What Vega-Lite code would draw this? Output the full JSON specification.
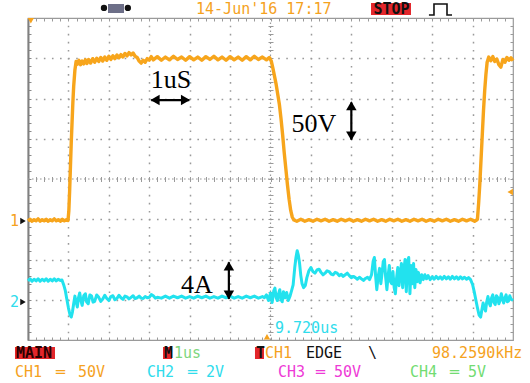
{
  "$schema": "https://vega.github.io/schema/vega-lite/v6.json",
  "width": 485,
  "height": 322,
  "autosize": {"type": "none"},
  "padding": {"left": 28, "top": 18, "right": 17, "bottom": 43},
  "background": "white",
  "config": {"view": {"stroke": "#9a9a9a", "strokeWidth": 1.2}},
  "datasets": {
    "ch1": [
      {"x":-6.00,"y":2.96},{"x":-5.95,"y":3.00},{"x":-5.90,"y":2.95},{"x":-5.85,"y":2.99},{"x":-5.80,"y":2.96},{"x":-5.75,"y":3.01},{"x":-5.70,"y":2.95},{"x":-5.65,"y":2.99},{"x":-5.60,"y":2.96},{"x":-5.55,"y":3.00},{"x":-5.50,"y":2.95},{"x":-5.45,"y":2.99},{"x":-5.40,"y":2.96},{"x":-5.35,"y":3.01},{"x":-5.30,"y":2.96},{"x":-5.25,"y":2.99},{"x":-5.20,"y":2.95},{"x":-5.15,"y":3.00},{"x":-5.10,"y":2.96},{"x":-5.05,"y":2.99},{"x":-5.01,"y":2.97},
      {"x":-4.99,"y":3.2},{"x":-4.97,"y":3.7},{"x":-4.95,"y":4.3},{"x":-4.93,"y":4.9},{"x":-4.91,"y":5.4},{"x":-4.89,"y":5.9},{"x":-4.87,"y":6.3},{"x":-4.84,"y":6.7},{"x":-4.81,"y":6.92},
      {"x":-4.78,"y":6.85},{"x":-4.74,"y":6.95},{"x":-4.70,"y":6.84},{"x":-4.66,"y":6.93},{"x":-4.62,"y":6.86},{"x":-4.58,"y":6.96},{"x":-4.54,"y":6.87},{"x":-4.50,"y":6.97},{"x":-4.45,"y":6.88},{"x":-4.40,"y":6.99},{"x":-4.35,"y":6.90},{"x":-4.30,"y":7.00},{"x":-4.25,"y":6.92},{"x":-4.20,"y":7.02},{"x":-4.15,"y":6.93},{"x":-4.10,"y":7.03},{"x":-4.05,"y":6.95},{"x":-4.00,"y":7.05},{"x":-3.95,"y":6.97},{"x":-3.90,"y":7.06},{"x":-3.85,"y":6.99},{"x":-3.80,"y":7.08},{"x":-3.75,"y":7.01},{"x":-3.70,"y":7.09},{"x":-3.65,"y":7.03},{"x":-3.60,"y":7.12},{"x":-3.55,"y":7.06},{"x":-3.50,"y":7.14},{"x":-3.45,"y":7.08},{"x":-3.40,"y":7.13},{"x":-3.35,"y":7.05},{"x":-3.30,"y":7.02},{"x":-3.25,"y":6.93},{"x":-3.20,"y":6.88},{"x":-3.15,"y":6.95},{"x":-3.10,"y":6.90},{"x":-3.05,"y":6.99},{"x":-3.00,"y":6.95},{"x":-2.95,"y":7.04},
      {"x":-2.90,"y":6.96},{"x":-2.80,"y":7.04},{"x":-2.70,"y":6.95},{"x":-2.60,"y":7.03},{"x":-2.50,"y":6.96},{"x":-2.40,"y":7.05},{"x":-2.30,"y":6.97},{"x":-2.20,"y":7.03},{"x":-2.10,"y":6.95},{"x":-2.00,"y":7.04},{"x":-1.90,"y":6.96},{"x":-1.80,"y":7.03},{"x":-1.70,"y":6.95},{"x":-1.60,"y":7.04},{"x":-1.50,"y":6.97},{"x":-1.40,"y":7.05},{"x":-1.30,"y":6.96},{"x":-1.20,"y":7.03},{"x":-1.10,"y":6.95},{"x":-1.00,"y":7.04},{"x":-0.90,"y":6.96},{"x":-0.80,"y":7.03},{"x":-0.70,"y":6.95},{"x":-0.60,"y":7.04},{"x":-0.50,"y":6.96},{"x":-0.40,"y":7.05},{"x":-0.30,"y":6.97},{"x":-0.20,"y":7.03},{"x":-0.10,"y":6.96},{"x":-0.03,"y":7.02},
      {"x":0.02,"y":6.93},{"x":0.06,"y":6.75},{"x":0.10,"y":6.55},{"x":0.14,"y":6.35},{"x":0.18,"y":6.10},{"x":0.22,"y":5.85},{"x":0.26,"y":5.50},{"x":0.30,"y":5.10},{"x":0.34,"y":4.65},{"x":0.38,"y":4.25},{"x":0.42,"y":3.85},{"x":0.46,"y":3.50},{"x":0.50,"y":3.22},{"x":0.54,"y":3.05},{"x":0.58,"y":2.98},
      {"x":0.65,"y":2.95},{"x":0.75,"y":3.00},{"x":0.85,"y":2.95},{"x":0.95,"y":2.99},{"x":1.05,"y":2.95},{"x":1.15,"y":3.00},{"x":1.25,"y":2.96},{"x":1.35,"y":3.00},{"x":1.45,"y":2.95},{"x":1.55,"y":2.99},{"x":1.65,"y":2.95},{"x":1.75,"y":3.00},{"x":1.85,"y":2.96},{"x":1.95,"y":3.00},{"x":2.05,"y":2.95},{"x":2.15,"y":2.99},{"x":2.25,"y":2.95},{"x":2.35,"y":3.00},{"x":2.45,"y":2.96},{"x":2.55,"y":3.00},{"x":2.65,"y":2.95},{"x":2.75,"y":2.99},{"x":2.85,"y":2.95},{"x":2.95,"y":3.00},{"x":3.05,"y":2.96},{"x":3.15,"y":3.00},{"x":3.25,"y":2.95},{"x":3.35,"y":2.99},{"x":3.45,"y":2.95},{"x":3.55,"y":3.00},{"x":3.65,"y":2.96},{"x":3.75,"y":3.00},{"x":3.85,"y":2.95},{"x":3.95,"y":2.99},{"x":4.05,"y":2.95},{"x":4.15,"y":3.00},{"x":4.25,"y":2.96},{"x":4.35,"y":3.00},{"x":4.45,"y":2.95},{"x":4.55,"y":2.99},{"x":4.65,"y":2.95},{"x":4.75,"y":3.00},{"x":4.85,"y":2.96},{"x":4.95,"y":3.00},{"x":5.05,"y":2.95},{"x":5.10,"y":2.98},
      {"x":5.12,"y":3.0},{"x":5.15,"y":3.4},{"x":5.18,"y":3.9},{"x":5.21,"y":4.5},{"x":5.24,"y":5.1},{"x":5.27,"y":5.7},{"x":5.30,"y":6.2},{"x":5.33,"y":6.6},{"x":5.36,"y":6.9},{"x":5.40,"y":7.03},
      {"x":5.45,"y":6.94},{"x":5.50,"y":7.04},{"x":5.55,"y":6.92},{"x":5.60,"y":6.98},{"x":5.65,"y":6.84},{"x":5.70,"y":6.78},{"x":5.75,"y":6.97},{"x":5.80,"y":6.90},{"x":5.85,"y":7.02},{"x":5.90,"y":6.95},{"x":5.95,"y":7.01},{"x":6.00,"y":6.94}
    ],
    "ch2": [
      {"x":-6.00,"y":1.47},{"x":-5.95,"y":1.52},{"x":-5.90,"y":1.46},{"x":-5.85,"y":1.51},{"x":-5.80,"y":1.47},{"x":-5.75,"y":1.52},{"x":-5.70,"y":1.46},{"x":-5.65,"y":1.51},{"x":-5.60,"y":1.47},{"x":-5.55,"y":1.52},{"x":-5.50,"y":1.46},{"x":-5.45,"y":1.51},{"x":-5.40,"y":1.47},{"x":-5.35,"y":1.52},{"x":-5.30,"y":1.47},{"x":-5.25,"y":1.51},{"x":-5.20,"y":1.48},{"x":-5.16,"y":1.49},
      {"x":-5.12,"y":1.38},{"x":-5.08,"y":1.24},{"x":-5.04,"y":1.02},{"x":-5.00,"y":0.80},{"x":-4.96,"y":0.62},{"x":-4.93,"y":0.57},{"x":-4.90,"y":0.70},{"x":-4.87,"y":0.90},{"x":-4.84,"y":1.09},{"x":-4.81,"y":0.95},{"x":-4.78,"y":0.82},{"x":-4.75,"y":1.05},{"x":-4.72,"y":1.17},{"x":-4.69,"y":0.98},{"x":-4.66,"y":0.86},{"x":-4.62,"y":1.10},{"x":-4.58,"y":1.15},{"x":-4.55,"y":0.95},{"x":-4.51,"y":0.90},{"x":-4.47,"y":1.12},{"x":-4.43,"y":1.10},{"x":-4.39,"y":0.94},{"x":-4.35,"y":0.96},{"x":-4.30,"y":1.12},{"x":-4.25,"y":1.06},{"x":-4.20,"y":0.96},{"x":-4.15,"y":1.02},{"x":-4.10,"y":1.11},{"x":-4.05,"y":1.03},{"x":-4.00,"y":0.98},{"x":-3.95,"y":1.08},{"x":-3.90,"y":1.10},{"x":-3.85,"y":1.00},{"x":-3.80,"y":1.03},{"x":-3.75,"y":1.11},{"x":-3.70,"y":1.05},{"x":-3.65,"y":1.01},{"x":-3.60,"y":1.09},{"x":-3.55,"y":1.07},{"x":-3.50,"y":1.02},{"x":-3.45,"y":1.06},{"x":-3.40,"y":1.10},{"x":-3.35,"y":1.03},{"x":-3.30,"y":1.05},{"x":-3.25,"y":1.09},{"x":-3.20,"y":1.04},{"x":-3.15,"y":1.03},{"x":-3.10,"y":1.08},{"x":-3.05,"y":1.05},{"x":-3.00,"y":1.06},{"x":-2.95,"y":1.13},{"x":-2.90,"y":1.10},{"x":-2.85,"y":1.04},{"x":-2.80,"y":1.06},
      {"x":-2.70,"y":1.04},{"x":-2.60,"y":1.09},{"x":-2.50,"y":1.04},{"x":-2.40,"y":1.09},{"x":-2.30,"y":1.05},{"x":-2.20,"y":1.09},{"x":-2.10,"y":1.04},{"x":-2.00,"y":1.08},{"x":-1.90,"y":1.04},{"x":-1.80,"y":1.09},{"x":-1.70,"y":1.05},{"x":-1.60,"y":1.09},{"x":-1.50,"y":1.04},{"x":-1.40,"y":1.08},{"x":-1.30,"y":1.04},{"x":-1.20,"y":1.09},{"x":-1.10,"y":1.05},{"x":-1.00,"y":1.09},{"x":-0.90,"y":1.04},{"x":-0.80,"y":1.08},{"x":-0.70,"y":1.04},{"x":-0.60,"y":1.09},{"x":-0.50,"y":1.05},{"x":-0.40,"y":1.09},{"x":-0.30,"y":1.04},{"x":-0.20,"y":1.08},
      {"x":-0.15,"y":1.05},{"x":-0.10,"y":1.12},{"x":-0.05,"y":0.98},{"x":0.00,"y":1.17},{"x":0.04,"y":0.93},{"x":0.08,"y":1.22},{"x":0.11,"y":1.29},{"x":0.14,"y":1.05},{"x":0.17,"y":0.98},{"x":0.20,"y":1.15},{"x":0.23,"y":1.25},{"x":0.26,"y":1.00},{"x":0.29,"y":0.95},{"x":0.32,"y":1.20},{"x":0.36,"y":1.05},{"x":0.40,"y":1.18},{"x":0.44,"y":0.98},{"x":0.48,"y":1.08},{"x":0.52,"y":1.22},{"x":0.56,"y":1.37},{"x":0.60,"y":1.80},{"x":0.63,"y":2.05},{"x":0.66,"y":2.22},{"x":0.69,"y":2.10},{"x":0.72,"y":1.90},{"x":0.75,"y":1.60},{"x":0.78,"y":1.40},{"x":0.82,"y":1.30},{"x":0.86,"y":1.35},{"x":0.90,"y":1.55},{"x":0.95,"y":1.72},{"x":1.00,"y":1.80},{"x":1.05,"y":1.70},{"x":1.10,"y":1.66},{"x":1.15,"y":1.74},{"x":1.20,"y":1.76},{"x":1.25,"y":1.68},{"x":1.30,"y":1.62},{"x":1.35,"y":1.66},{"x":1.40,"y":1.72},{"x":1.45,"y":1.70},{"x":1.50,"y":1.64},{"x":1.55,"y":1.62},{"x":1.60,"y":1.68},{"x":1.65,"y":1.66},{"x":1.70,"y":1.60},{"x":1.75,"y":1.63},{"x":1.80,"y":1.58},{"x":1.85,"y":1.62},{"x":1.90,"y":1.66},{"x":1.95,"y":1.60},{"x":2.00,"y":1.55},{"x":2.05,"y":1.58},{"x":2.10,"y":1.55},{"x":2.15,"y":1.51},{"x":2.20,"y":1.56},{"x":2.25,"y":1.52},{"x":2.30,"y":1.48},{"x":2.35,"y":1.53},{"x":2.40,"y":1.56},{"x":2.45,"y":1.50},{"x":2.50,"y":1.62},{"x":2.54,"y":1.96},{"x":2.57,"y":2.05},{"x":2.60,"y":1.60},{"x":2.63,"y":1.25},{"x":2.66,"y":1.55},{"x":2.70,"y":1.78},{"x":2.73,"y":1.40},{"x":2.76,"y":1.65},{"x":2.79,"y":1.95},{"x":2.82,"y":2.00},{"x":2.85,"y":1.55},{"x":2.88,"y":1.25},{"x":2.91,"y":1.60},{"x":2.94,"y":1.85},{"x":2.97,"y":1.45},{"x":3.00,"y":1.40},{"x":3.03,"y":1.70},{"x":3.06,"y":1.30},{"x":3.09,"y":1.15},{"x":3.12,"y":1.55},{"x":3.15,"y":1.80},{"x":3.18,"y":1.35},{"x":3.21,"y":1.65},{"x":3.24,"y":1.90},{"x":3.27,"y":1.30},{"x":3.30,"y":1.75},{"x":3.33,"y":2.00},{"x":3.36,"y":1.20},{"x":3.39,"y":1.95},{"x":3.42,"y":2.05},{"x":3.45,"y":1.15},{"x":3.48,"y":1.85},{"x":3.51,"y":1.40},{"x":3.54,"y":1.90},{"x":3.57,"y":1.30},{"x":3.60,"y":1.75},{"x":3.63,"y":1.45},{"x":3.66,"y":1.68},{"x":3.70,"y":1.42},{"x":3.74,"y":1.62},{"x":3.78,"y":1.50},{"x":3.82,"y":1.62},{"x":3.86,"y":1.52},{"x":3.90,"y":1.60},{"x":3.95,"y":1.50},{"x":4.00,"y":1.57},{"x":4.05,"y":1.51},{"x":4.10,"y":1.58},{"x":4.15,"y":1.52},{"x":4.20,"y":1.57},{"x":4.25,"y":1.51},{"x":4.30,"y":1.58},{"x":4.35,"y":1.52},{"x":4.40,"y":1.57},{"x":4.45,"y":1.51},{"x":4.50,"y":1.58},{"x":4.55,"y":1.52},{"x":4.60,"y":1.57},{"x":4.65,"y":1.51},{"x":4.70,"y":1.57},{"x":4.75,"y":1.52},{"x":4.80,"y":1.56},{"x":4.85,"y":1.51},{"x":4.90,"y":1.55},{"x":4.95,"y":1.50},{"x":5.00,"y":1.38},{"x":5.04,"y":1.20},{"x":5.08,"y":1.00},{"x":5.12,"y":0.80},{"x":5.16,"y":0.62},{"x":5.20,"y":0.57},{"x":5.23,"y":0.75},{"x":5.26,"y":0.92},{"x":5.29,"y":0.80},{"x":5.32,"y":0.72},{"x":5.35,"y":0.95},{"x":5.38,"y":1.08},{"x":5.41,"y":0.92},{"x":5.44,"y":0.85},{"x":5.47,"y":1.05},{"x":5.50,"y":1.12},{"x":5.53,"y":0.93},{"x":5.56,"y":0.88},{"x":5.59,"y":1.10},{"x":5.62,"y":1.06},{"x":5.65,"y":0.90},{"x":5.68,"y":0.98},{"x":5.71,"y":1.15},{"x":5.74,"y":1.02},{"x":5.77,"y":0.92},{"x":5.80,"y":1.05},{"x":5.83,"y":1.12},{"x":5.86,"y":0.95},{"x":5.89,"y":0.97},{"x":5.92,"y":1.10},{"x":5.95,"y":1.02},{"x":6.00,"y":0.98}
    ],
    "scopeText": [
      {"t":"14-Jun'16 17:17","x":-1.843,"y":8.224,"c":"ch1"},
      {"t":"1us","x":-2.388,"y":-0.323,"c":"green"},
      {"t":"CH1","x":-0.136,"y":-0.323,"c":"ch1"},
      {"t":"EDGE","x":0.878,"y":-0.323,"c":"ink"},
      {"t":"\\","x":2.412,"y":-0.323,"c":"ink"},
      {"t":"98.2590kHz","x":3.996,"y":-0.323,"c":"ch1"},
      {"t":"CH1","x":-6.322,"y":-0.795,"c":"ch1"},
      {"t":"═","x":-5.307,"y":-0.795,"c":"ch1"},
      {"t":"50V","x":-4.763,"y":-0.795,"c":"ch1"},
      {"t":"CH2","x":-3.056,"y":-0.795,"c":"ch2"},
      {"t":"═","x":-2.041,"y":-0.795,"c":"ch2"},
      {"t":"2V","x":-1.596,"y":-0.795,"c":"ch2"},
      {"t":"CH3","x":0.185,"y":-0.795,"c":"ch3"},
      {"t":"═","x":1.126,"y":-0.795,"c":"ch3"},
      {"t":"50V","x":1.571,"y":-0.795,"c":"ch3"},
      {"t":"CH4","x":3.451,"y":-0.795,"c":"ch4"},
      {"t":"═","x":4.441,"y":-0.795,"c":"ch4"},
      {"t":"5V","x":4.886,"y":-0.795,"c":"ch4"},
      {"t":"1","x":-6.445,"y":2.957,"c":"ch1"},
      {"t":"2","x":-6.445,"y":0.944,"c":"ch2"},
      {"t":"9.720us","x":0.111,"y":0.298,"c":"ch2"}
    ],
    "boldText": [
      {"t":"MAIN","x":-6.297,"y":-0.323,"c":"dark"},
      {"t":"M","x":-2.635,"y":-0.323,"c":"ink"},
      {"t":"T","x":-0.359,"y":-0.323,"c":"ink"},
      {"t":"STOP","x":2.548,"y":8.224,"c":"ink"}
    ],
    "boxes": [
      {"x":-6.322,"x2":-5.332,"y":-0.174,"y2":-0.472,"c":"red"},
      {"x":-2.66,"x2":-2.437,"y":-0.174,"y2":-0.472,"c":"red"},
      {"x":-0.384,"x2":-0.161,"y":-0.174,"y2":-0.472,"c":"red"},
      {"x":2.487,"x2":3.476,"y":8.075,"y2":8.373,"c":"red"},
      {"x":-4.021,"x2":-3.625,"y":8.124,"y2":8.348,"c":"gray"}
    ],
    "marks": [
      {"x":-6.124,"y":2.957,"s":"right","c":"ink"},
      {"x":-6.124,"y":0.944,"s":"right","c":"ink"},
      {"x":5.93,"y":3.677,"s":"left","c":"ch1"},
      {"x":-5.93,"y":7.93,"s":"down","c":"ch1"},
      {"x":-0.087,"y":0.08,"s":"up","c":"ch1"},
      {"x":-4.12,"y":8.25,"s":"dot","c":"ink"},
      {"x":-3.53,"y":8.25,"s":"dot","c":"ink"}
    ],
    "heads": [
      {"x":-2.856,"y":5.96,"s":"left"},
      {"x":-2.104,"y":5.96,"s":"right"},
      {"x":2.0,"y":5.82,"s":"up"},
      {"x":2.0,"y":5.07,"s":"down"},
      {"x":-1.03,"y":1.84,"s":"up"},
      {"x":-1.03,"y":1.12,"s":"down"}
    ],
    "arrows": [
      {"x":-2.95,"x2":-2.01,"y":5.96,"y2":5.96},
      {"x":2.0,"x2":2.0,"y":5.9,"y2":4.98},
      {"x":-1.03,"x2":-1.03,"y":1.93,"y2":1.02}
    ],
    "notes": [
      {"t":"1uS","x":-2.462,"y":6.46},
      {"t":"50V","x":1.076,"y":5.366},
      {"t":"4A","x":-1.819,"y":1.366}
    ],
    "icon": [
      {"i":1,"x":3.92,"y":8.075},{"i":2,"x":4.045,"y":8.075},{"i":3,"x":4.045,"y":8.348},{"i":4,"x":4.367,"y":8.348},{"i":5,"x":4.367,"y":8.075},{"i":6,"x":4.491,"y":8.075}
    ],
    "center": [
      {"x":0,"y":0,"x2":0,"y2":8},
      {"x":-6,"y":4,"x2":6,"y2":4}
    ]
  },
  "resolve": {"axis": {"x": "independent", "y": "independent"}},
  "layer": [
    {
      "data": {"name": "center"},
      "mark": {"type": "rule", "color": "#9a9a9a", "strokeWidth": 1.2, "strokeDash": [1.6, 2.4]},
      "encoding": {
        "x": {"field": "x", "type": "quantitative", "scale": {"domain": [-6, 6], "nice": false, "zero": false},
          "axis": {"orient": "bottom", "offset": -163.5, "values": [-5.8,-5.6,-5.4,-5.2,-5,-4.8,-4.6,-4.4,-4.2,-4,-3.8,-3.6,-3.4,-3.2,-3,-2.8,-2.6,-2.4,-2.2,-2,-1.8,-1.6,-1.4,-1.2,-1,-0.8,-0.6,-0.4,-0.2,0,0.2,0.4,0.6,0.8,1,1.2,1.4,1.6,1.8,2,2.2,2.4,2.6,2.8,3,3.2,3.4,3.6,3.8,4,4.2,4.4,4.6,4.8,5,5.2,5.4,5.6,5.8], "tickSize": 5, "tickColor": "#9a9a9a", "labels": false, "domain": false, "grid": false, "title": null}},
        "x2": {"field": "x2"},
        "y": {"field": "y", "type": "quantitative", "scale": {"domain": [0, 8], "nice": false, "zero": false},
          "axis": {"orient": "left", "offset": -245, "values": [0.2,0.4,0.6,0.8,1,1.2,1.4,1.6,1.8,2,2.2,2.4,2.6,2.8,3,3.2,3.4,3.6,3.8,4,4.2,4.4,4.6,4.8,5,5.2,5.4,5.6,5.8,6,6.2,6.4,6.6,6.8,7,7.2,7.4,7.6,7.8], "tickSize": 5, "tickColor": "#9a9a9a", "labels": false, "domain": false, "grid": false, "title": null}},
        "y2": {"field": "y2"}
      }
    },
    {
      "data": {"name": "ch1"},
      "mark": {"type": "line", "color": "#F7A51C", "strokeWidth": 3.4, "strokeJoin": "round"},
      "encoding": {
        "x": {"field": "x", "type": "quantitative", "scale": {"domain": [-6, 6], "nice": false, "zero": false},
          "axis": {"orient": "bottom", "values": [-5,-4,-3,-2,-1,1,2,3,4,5], "grid": true, "gridColor": "#9a9a9a", "gridWidth": 1.5, "gridDash": [1.6, 6.45], "gridDashOffset": 0.8, "ticks": false, "labels": false, "domain": false, "title": null}},
        "y": {"field": "y", "type": "quantitative", "scale": {"domain": [0, 8], "nice": false, "zero": false},
          "axis": {"orient": "left", "values": [1,2,3,5,6,7], "grid": true, "gridColor": "#9a9a9a", "gridWidth": 1.5, "gridDash": [1.6, 6.48], "gridDashOffset": 0.8, "ticks": false, "labels": false, "domain": false, "title": null}}
      }
    },
    {
      "data": {"name": "ch2"},
      "mark": {"type": "line", "color": "#22E2EE", "strokeWidth": 3, "strokeJoin": "round"},
      "encoding": {
        "x": {"field": "x", "type": "quantitative", "scale": {"domain": [-6, 6], "nice": false, "zero": false},
          "axis": {"orient": "bottom", "values": [-5.8,-5.6,-5.4,-5.2,-5,-4.8,-4.6,-4.4,-4.2,-4,-3.8,-3.6,-3.4,-3.2,-3,-2.8,-2.6,-2.4,-2.2,-2,-1.8,-1.6,-1.4,-1.2,-1,-0.8,-0.6,-0.4,-0.2,0,0.2,0.4,0.6,0.8,1,1.2,1.4,1.6,1.8,2,2.2,2.4,2.6,2.8,3,3.2,3.4,3.6,3.8,4,4.2,4.4,4.6,4.8,5,5.2,5.4,5.6,5.8], "tickSize": -3, "tickColor": "#9a9a9a", "labels": false, "domain": false, "grid": false, "title": null}},
        "y": {"field": "y", "type": "quantitative", "scale": {"domain": [0, 8], "nice": false, "zero": false},
          "axis": {"orient": "left", "values": [0.2,0.4,0.6,0.8,1,1.2,1.4,1.6,1.8,2,2.2,2.4,2.6,2.8,3,3.2,3.4,3.6,3.8,4,4.2,4.4,4.6,4.8,5,5.2,5.4,5.6,5.8,6,6.2,6.4,6.6,6.8,7,7.2,7.4,7.6,7.8], "tickSize": -3, "tickColor": "#8a8a8a", "labels": false, "domain": true, "domainColor": "#808080", "domainWidth": 2, "grid": false, "title": null}}
      }
    },
    {
      "data": {"name": "boxes"},
      "mark": {"type": "rect"},
      "encoding": {
        "x": {"field": "x", "type": "quantitative", "scale": {"domain": [-6, 6], "nice": false, "zero": false}, "axis": null},
        "x2": {"field": "x2"},
        "y": {"field": "y", "type": "quantitative", "scale": {"domain": [0, 8], "nice": false, "zero": false}, "axis": null},
        "y2": {"field": "y2"},
        "color": {"field": "c", "type": "nominal", "legend": null,
          "scale": {"domain": ["ch1","ch2","ch3","ch4","green","ink","dark","red","gray"], "range": ["#F5A21E","#2FDCEC","#EE3AD6","#72DC72","#7ED67E","#111111","#2a0000","#E3262B","#6d6f88"]}}
      }
    },
    {
      "data": {"name": "scopeText"},
      "mark": {"type": "text", "font": "DejaVu Sans Mono", "fontSize": 15, "align": "left", "baseline": "middle"},
      "encoding": {
        "x": {"field": "x", "type": "quantitative", "scale": {"domain": [-6, 6], "nice": false, "zero": false},
          "axis": {"orient": "top", "values": [-5.8,-5.6,-5.4,-5.2,-5,-4.8,-4.6,-4.4,-4.2,-4,-3.8,-3.6,-3.4,-3.2,-3,-2.8,-2.6,-2.4,-2.2,-2,-1.8,-1.6,-1.4,-1.2,-1,-0.8,-0.6,-0.4,-0.2,0,0.2,0.4,0.6,0.8,1,1.2,1.4,1.6,1.8,2,2.2,2.4,2.6,2.8,3,3.2,3.4,3.6,3.8,4,4.2,4.4,4.6,4.8,5,5.2,5.4,5.6,5.8], "tickSize": -3, "tickColor": "#9a9a9a", "labels": false, "domain": false, "grid": false, "title": null}},
        "y": {"field": "y", "type": "quantitative", "scale": {"domain": [0, 8], "nice": false, "zero": false},
          "axis": {"orient": "right", "values": [0.2,0.4,0.6,0.8,1,1.2,1.4,1.6,1.8,2,2.2,2.4,2.6,2.8,3,3.2,3.4,3.6,3.8,4,4.2,4.4,4.6,4.8,5,5.2,5.4,5.6,5.8,6,6.2,6.4,6.6,6.8,7,7.2,7.4,7.6,7.8], "tickSize": -3, "tickColor": "#9a9a9a", "labels": false, "domain": false, "grid": false, "title": null}},
        "text": {"field": "t"},
        "color": {"field": "c", "type": "nominal", "legend": null,
          "scale": {"domain": ["ch1","ch2","ch3","ch4","green","ink","dark","red","gray"], "range": ["#F5A21E","#2FDCEC","#EE3AD6","#72DC72","#7ED67E","#111111","#2a0000","#E3262B","#6d6f88"]}}
      }
    },
    {
      "data": {"name": "boldText"},
      "mark": {"type": "text", "font": "DejaVu Sans Mono", "fontSize": 15, "fontWeight": "bold", "align": "left", "baseline": "middle"},
      "encoding": {
        "x": {"field": "x", "type": "quantitative", "scale": {"domain": [-6, 6], "nice": false, "zero": false}, "axis": null},
        "y": {"field": "y", "type": "quantitative", "scale": {"domain": [0, 8], "nice": false, "zero": false}, "axis": null},
        "text": {"field": "t"},
        "color": {"field": "c", "type": "nominal", "legend": null,
          "scale": {"domain": ["ch1","ch2","ch3","ch4","green","ink","dark","red","gray"], "range": ["#F5A21E","#2FDCEC","#EE3AD6","#72DC72","#7ED67E","#111111","#2a0000","#E3262B","#6d6f88"]}}
      }
    },
    {
      "data": {"name": "marks"},
      "mark": {"type": "point", "filled": true, "size": 40, "opacity": 1},
      "encoding": {
        "x": {"field": "x", "type": "quantitative", "scale": {"domain": [-6, 6], "nice": false, "zero": false}, "axis": null},
        "y": {"field": "y", "type": "quantitative", "scale": {"domain": [0, 8], "nice": false, "zero": false}, "axis": null},
        "shape": {"field": "s", "type": "nominal", "legend": null,
          "scale": {"domain": ["right","left","up","down","dot"], "range": ["triangle-right","triangle-left","triangle-up","triangle-down","circle"]}},
        "color": {"field": "c", "type": "nominal", "legend": null,
          "scale": {"domain": ["ch1","ch2","ch3","ch4","green","ink","dark","red","gray"], "range": ["#F5A21E","#2FDCEC","#EE3AD6","#72DC72","#7ED67E","#111111","#2a0000","#E3262B","#6d6f88"]}}
      }
    },
    {
      "data": {"name": "icon"},
      "mark": {"type": "line", "color": "#111111", "strokeWidth": 1.6},
      "encoding": {
        "x": {"field": "x", "type": "quantitative", "scale": {"domain": [-6, 6], "nice": false, "zero": false}, "axis": null},
        "y": {"field": "y", "type": "quantitative", "scale": {"domain": [0, 8], "nice": false, "zero": false}, "axis": null},
        "order": {"field": "i", "type": "quantitative"}
      }
    },
    {
      "data": {"name": "arrows"},
      "mark": {"type": "rule", "color": "#000000", "strokeWidth": 2.2},
      "encoding": {
        "x": {"field": "x", "type": "quantitative", "scale": {"domain": [-6, 6], "nice": false, "zero": false}, "axis": null},
        "x2": {"field": "x2"},
        "y": {"field": "y", "type": "quantitative", "scale": {"domain": [0, 8], "nice": false, "zero": false}, "axis": null},
        "y2": {"field": "y2"}
      }
    },
    {
      "data": {"name": "heads"},
      "mark": {"type": "point", "filled": true, "size": 110, "color": "#000000", "opacity": 1},
      "encoding": {
        "x": {"field": "x", "type": "quantitative", "scale": {"domain": [-6, 6], "nice": false, "zero": false}, "axis": null},
        "y": {"field": "y", "type": "quantitative", "scale": {"domain": [0, 8], "nice": false, "zero": false}, "axis": null},
        "shape": {"field": "s", "type": "nominal", "legend": null,
          "scale": {"domain": ["right","left","up","down","dot"], "range": ["triangle-right","triangle-left","triangle-up","triangle-down","circle"]}}
      }
    },
    {
      "data": {"name": "notes"},
      "mark": {"type": "text", "font": "Liberation Serif", "fontSize": 26, "align": "center", "baseline": "middle", "color": "#000000"},
      "encoding": {
        "x": {"field": "x", "type": "quantitative", "scale": {"domain": [-6, 6], "nice": false, "zero": false}, "axis": null},
        "y": {"field": "y", "type": "quantitative", "scale": {"domain": [0, 8], "nice": false, "zero": false}, "axis": null},
        "text": {"field": "t"}
      }
    }
  ]
}
